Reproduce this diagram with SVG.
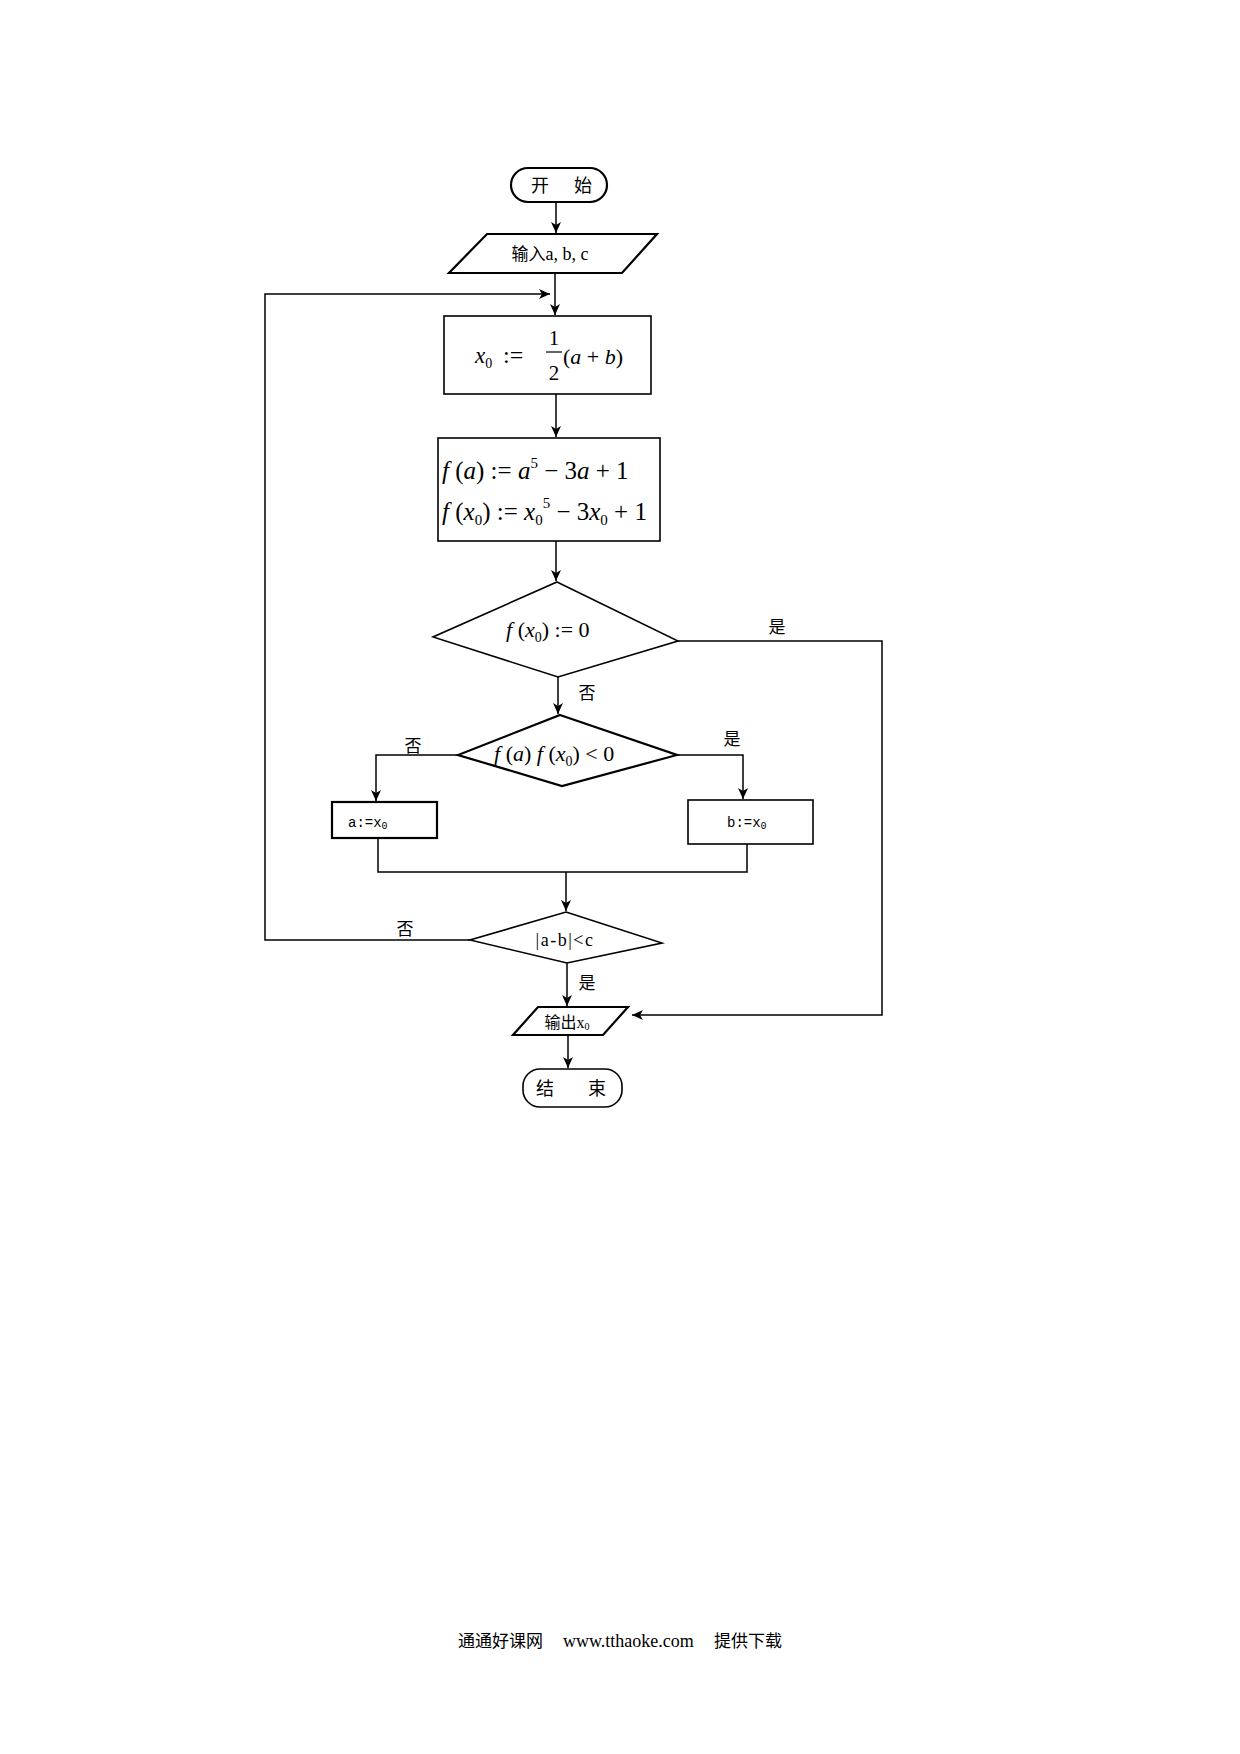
<svg xmlns="http://www.w3.org/2000/svg" width="1240" height="1754" viewBox="0 0 1240 1754">
<defs>
<marker id="arr" markerUnits="userSpaceOnUse" markerWidth="12" markerHeight="10" refX="11" refY="5" orient="auto">
<path d="M0,0 L11,5 L0,10 L3,5 z" fill="#000"/>
</marker>
<style>
.shape{fill:#fff;stroke:#000;stroke-width:1.6}
.thick{stroke-width:2.2}
.conn{fill:none;stroke:#000;stroke-width:1.5}
.cjk{font-family:"Noto Sans CJK SC","Liberation Serif",sans-serif;fill:#000}
.math{font-family:"Liberation Serif",serif;font-style:italic;fill:#000}
.num{font-family:"Liberation Serif",serif;font-style:normal;fill:#000}
.mono{font-family:"Liberation Mono",monospace;fill:#000}
.lbl{font-family:"Noto Sans CJK SC",sans-serif;font-size:17px;fill:#000}
</style>
</defs>
<rect width="1240" height="1754" fill="#fff"/>

<g id="connectors">
<path class="conn" d="M556,202 V233" marker-end="url(#arr)"/>
<path class="conn" d="M555,273 V315" marker-end="url(#arr)"/>
<path class="conn" d="M470,940 H265 V294 H550" marker-end="url(#arr)"/>
<path class="conn" d="M556,394 V437" marker-end="url(#arr)"/>
<path class="conn" d="M556,541 V581" marker-end="url(#arr)"/>
<path class="conn" d="M678,641 H882 V1015 H632" marker-end="url(#arr)"/>
<path class="conn" d="M558,677 V714" marker-end="url(#arr)"/>
<path class="conn" d="M458,755 H376 V801" stroke-width="2" marker-end="url(#arr)"/>
<path class="conn" d="M677,755 H743 V799" stroke-width="2" marker-end="url(#arr)"/>
<path class="conn" d="M378,838 V872 H747 V844"/>
<path class="conn" d="M566,872 V911" marker-end="url(#arr)"/>
<path class="conn" d="M567,963 V1006" marker-end="url(#arr)"/>
<path class="conn" d="M568,1035 V1068" marker-end="url(#arr)"/>
</g>

<g id="labels">
<text class="lbl" x="777" y="633" text-anchor="middle">是</text>
<text class="lbl" x="587" y="699" text-anchor="middle">否</text>
<text class="lbl" x="413" y="752" text-anchor="middle">否</text>
<text class="lbl" x="732" y="745" text-anchor="middle">是</text>
<text class="lbl" x="405" y="935" text-anchor="middle">否</text>
<text class="lbl" x="587" y="989" text-anchor="middle">是</text>
</g>

<g id="start">
<rect class="shape thick" x="511" y="168" width="96" height="34" rx="17"/>
<text class="cjk" x="540" y="192" font-size="18" text-anchor="middle">开</text>
<text class="cjk" x="583" y="192" font-size="18" text-anchor="middle">始</text>
</g>

<g id="input">
<polygon class="shape thick" points="487,234 657,234 622,273 449,273"/>
<text class="cjk" x="550" y="260" font-size="17" text-anchor="middle">输入<tspan font-family="Liberation Serif" font-size="18">a, b, c</tspan></text>
</g>

<g id="midpoint">
<rect class="shape" x="444" y="316" width="207" height="78"/>
<text class="math" x="475" y="363" font-size="23">x<tspan class="num" font-size="14" dy="5">0</tspan></text>
<text class="num" x="503" y="363" font-size="24">:=</text>
<text class="num" x="554" y="345" font-size="21" text-anchor="middle">1</text>
<line x1="546" y1="352" x2="562" y2="352" stroke="#000" stroke-width="1.2"/>
<text class="num" x="554" y="380" font-size="21" text-anchor="middle">2</text>
<text class="num" x="563" y="364" font-size="22">(<tspan class="math">a</tspan> + <tspan class="math">b</tspan>)</text>
</g>

<g id="evaluate">
<rect class="shape" x="438" y="438" width="222" height="103"/>
<text class="math" x="442" y="479" font-size="25">f <tspan class="num">(</tspan>a<tspan class="num">) := </tspan>a<tspan class="num" font-size="15" dy="-11">5</tspan><tspan class="num" dy="11"> − 3</tspan>a<tspan class="num"> + 1</tspan></text>
<text class="math" x="442" y="520" font-size="25">f <tspan class="num">(</tspan>x<tspan class="num" font-size="15" dy="5">0</tspan><tspan class="num" dy="-5">) := </tspan>x<tspan class="num" font-size="15" dy="5">0</tspan><tspan class="num" font-size="15" dy="-17">5</tspan><tspan class="num" dy="12"> − 3</tspan>x<tspan class="num" font-size="15" dy="5">0</tspan><tspan class="num" dy="-5"> + 1</tspan></text>
</g>

<g id="check-zero">
<polygon class="shape" points="557,582 678,641 558,677 433,637"/>
<text class="math" x="506" y="637" font-size="22">f <tspan class="num">(</tspan>x<tspan class="num" font-size="14" dy="5">0</tspan><tspan class="num" dy="-5">) := 0</tspan></text>
</g>

<g id="check-sign">
<polygon class="shape thick" points="560,715 677,755 562,786 458,755"/>
<text class="math" x="494" y="761" font-size="22">f <tspan class="num">(</tspan>a<tspan class="num">)</tspan> f <tspan class="num">(</tspan>x<tspan class="num" font-size="14" dy="5">0</tspan><tspan class="num" dy="-5">)  &lt; 0</tspan></text>
</g>

<g id="set-a">
<rect class="shape thick" x="332" y="802" width="105" height="36"/>
<text class="mono" x="348" y="827" font-size="14">a:=x<tspan font-size="10" dy="2">0</tspan></text>
</g>

<g id="set-b">
<rect class="shape" x="688" y="800" width="125" height="44"/>
<text class="mono" x="727" y="827" font-size="14">b:=x<tspan font-size="10" dy="2">0</tspan></text>
</g>

<g id="check-precision">
<polygon class="shape" points="566,912 662,943 567,963 470,940"/>
<text class="num" x="565" y="946" font-size="18" letter-spacing="1.5" text-anchor="middle">|a-b|&lt;c</text>
</g>

<g id="output">
<polygon class="shape thick" points="538,1007 628,1007 603,1035 513,1035"/>
<text class="cjk" x="567" y="1028" font-size="16" text-anchor="middle">输出<tspan font-family="Liberation Serif">x</tspan><tspan font-family="Liberation Serif" font-size="10" dy="2">0</tspan></text>
</g>

<g id="end">
<rect class="shape" x="523" y="1069" width="99" height="38" rx="17"/>
<text class="cjk" x="545" y="1095" font-size="18" text-anchor="middle">结</text>
<text class="cjk" x="597" y="1095" font-size="18" text-anchor="middle">束</text>
</g>

<g id="footer">
<text class="cjk" font-size="17"><tspan x="458" y="1647">通通好课网</tspan><tspan x="563" y="1647" font-family="Liberation Serif" font-size="18">www.tthaoke.com</tspan><tspan x="714" y="1647">提供下载</tspan></text>
</g>
</svg>
